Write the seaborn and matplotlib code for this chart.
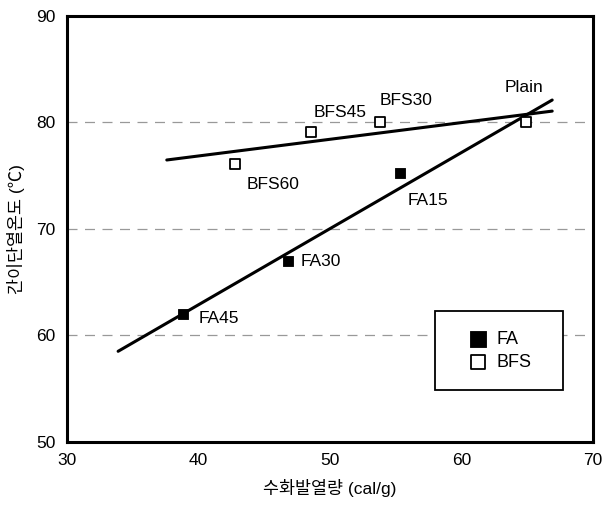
import numpy as np
import pandas as pd
import matplotlib
matplotlib.use("Agg")
import matplotlib.pyplot as plt
import matplotlib.patches as mpatches
import seaborn as sns

# data
fa_labels = ["FA45", "FA30", "FA15", "Plain"]
fa_heat = [38.8, 46.8, 55.3, 64.9]
fa_temp = [62.0, 67.0, 75.2, 80.0]

bfs_labels = ["BFS60", "BFS45", "BFS30"]
bfs_heat = [42.8, 48.6, 53.8, 64.9]
bfs_temp = [76.1, 79.1, 80.0, 80.0]

# extent of the fitted lines
fa_fit_range = [33.9, 66.9]
bfs_fit_range = [37.6, 66.9]

sns.set_style("white")
plt.rcParams['font.family'] = ['Liberation Sans', 'Noto Sans CJK KR', 'DejaVu Sans']
plt.rcParams['text.color'] = 'black'
plt.rcParams['axes.labelcolor'] = 'black'

fig = plt.figure(figsize=(6.02, 5.08), dpi=100)
ax = fig.add_axes([0.111, 0.130, 0.874, 0.839])

# grid lines
for yv in [60, 70, 80]:
    ax.axhline(yv, color='#999999', lw=0.9, ls=(0, (8, 6)), zorder=0)

# regression lines
fa_coef = np.polyfit(fa_heat, fa_temp, 1)
bfs_coef = np.polyfit(bfs_heat, bfs_temp, 1)
xf = np.array(fa_fit_range)
xb = np.array(bfs_fit_range)
ax.plot(xf, np.polyval(fa_coef, xf), color='black', lw=2.2, zorder=2)
ax.plot(xb, np.polyval(bfs_coef, xb), color='black', lw=2.2, zorder=2)

fa_df = pd.DataFrame({"heat": fa_heat[:3], "temp": fa_temp[:3]})
bfs_df = pd.DataFrame({"heat": bfs_heat, "temp": bfs_temp})
sns.scatterplot(data=fa_df, x="heat", y="temp", marker='s', s=60, color='black',
                edgecolor='black', ax=ax, zorder=3, label="FA")
sns.scatterplot(data=bfs_df, x="heat", y="temp", marker='s', s=45, color='white',
                edgecolor='black', linewidth=1.3, ax=ax, zorder=3, label="BFS")

# point labels
offsets = {
    "FA45": (1.2, -0.4),
    "FA30": (1.0, -0.1),
    "FA15": (0.6, -2.5),
    "Plain": (-1.6, 3.3),
}
for lab, x, y in zip(fa_labels, fa_heat, fa_temp):
    dx, dy = offsets[lab]
    ax.text(x + dx, y + dy, lab, fontsize=12.5, ha='left', va='center')
bfs_offsets = {
    "BFS60": (0.9, -1.9),
    "BFS45": (0.2, 1.8),
    "BFS30": (0.0, 2.0),
}
for lab, x, y in zip(bfs_labels, bfs_heat, bfs_temp):
    dx, dy = bfs_offsets[lab]
    ax.text(x + dx, y + dy, lab, fontsize=12.5, ha='left', va='center')

ax.set_xlim(30, 70)
ax.set_ylim(50, 90)
ax.set_xticks([30, 40, 50, 60, 70])
ax.set_yticks([50, 60, 70, 80, 90])
ax.tick_params(direction='in', length=6, width=2, labelsize=12.5, pad=8, colors='black')
for sp in ax.spines.values():
    sp.set_linewidth(2.2)
    sp.set_color('black')

ax.set_xlabel("수화발열량 (cal/g)", fontsize=12.5, labelpad=8)
ax.set_ylabel("간이단열온도 (℃)", fontsize=12.5, labelpad=8)

# legend entries without frame, box drawn separately to match the wide frame
leg = ax.legend(loc='center left', bbox_to_anchor=(0.764, 0.2136), frameon=False,
                fontsize=13, handletextpad=0.55, borderpad=0, borderaxespad=0,
                labelspacing=0.3, handlelength=1.0, markerscale=1.4)
box = mpatches.Rectangle((0.6996, 0.122), 0.2434, 0.1855, transform=ax.transAxes,
                         fill=True, facecolor='white', edgecolor='black', lw=1.3, zorder=4)
ax.add_patch(box)
leg.set_zorder(5)

fig.savefig("out.png", dpi=100)
